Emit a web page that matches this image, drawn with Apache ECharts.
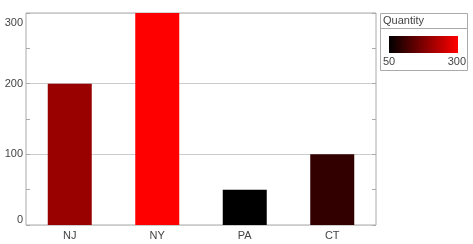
<!DOCTYPE html>
<html>
<head>
<meta charset="utf-8">
<script src="https://cdn.jsdelivr.net/npm/echarts@6/dist/echarts.min.js"></script>
<style>html,body{margin:0;padding:0;background:#fff}#c{width:473px;height:244px}</style>
</head>
<body>
<div id="c"></div>
<script>
var categories = ['NJ', 'NY', 'PA', 'CT'];
var quantities = [200, 300, 50, 100];
var colorMin = 50, colorMax = 300;
var legendTitle = 'Quantity';
var yMin = 0, yMax = 300, yInterval = 100;

var chart = echarts.init(document.getElementById('c'), null, {renderer: 'canvas'});
var font = 'Liberation Sans';
var axisGray = '#aaaaaa';
var yCommon = {
  type: 'value', min: yMin, max: yMax, interval: yInterval,
  axisLine: {show: false},
  axisTick: {show: true, inside: true, length: 4, lineStyle: {color: axisGray}},
  minorTick: {show: true, splitNumber: 2, length: 4, lineStyle: {color: axisGray}}
};
chart.setOption({
  animation: false,
  grid: {left: 26, top: 13, width: 350, height: 212, show: true, borderColor: axisGray, borderWidth: 1, backgroundColor: '#fff'},
  xAxis: {
    type: 'category', data: categories,
    axisLine: {show: false}, axisTick: {show: false},
    axisLabel: {fontFamily: font, fontSize: 11, color: '#444', margin: 5}
  },
  yAxis: [
    Object.assign({}, yCommon, {
      position: 'left',
      splitLine: {show: true, lineStyle: {color: '#cccccc'}},
      axisLabel: {fontFamily: font, fontSize: 11, color: '#444', margin: 3,
        verticalAlignMinLabel: 'bottom', verticalAlignMaxLabel: 'top',
        formatter: function (v) { return v === yMax ? '{mx|' + v + '}' : String(v); },
        rich: {mx: {fontFamily: font, fontSize: 11, color: '#444', padding: [4, 0, 0, 0]}}
      }
    }),
    Object.assign({}, yCommon, {
      position: 'right',
      splitLine: {show: false},
      axisLabel: {show: false}
    })
  ],
  visualMap: {
    show: false, type: 'continuous', min: colorMin, max: colorMax, dimension: 1,
    seriesIndex: 0, inRange: {color: ['#000000', '#ff0000']}
  },
  series: [{
    type: 'bar', data: quantities, barWidth: 44, yAxisIndex: 0
  }],
  graphic: [
    {type: 'rect', shape: {x: 380.5, y: 13.5, width: 87, height: 57}, style: {fill: '#fff', stroke: axisGray, lineWidth: 1}},
    {type: 'line', shape: {x1: 380.5, y1: 28.5, x2: 467.5, y2: 28.5}, style: {stroke: axisGray, lineWidth: 1}},
    {type: 'text', x: 383, y: 21, style: {text: legendTitle, font: '11px ' + font, fill: '#444', verticalAlign: 'middle'}},
    {type: 'rect', shape: {x: 389, y: 36, width: 69, height: 17},
      style: {fill: new echarts.graphic.LinearGradient(0, 0, 1, 0, [{offset: 0, color: '#000000'}, {offset: 1, color: '#ff0000'}])}},
    {type: 'text', x: 383, y: 62, style: {text: String(colorMin), font: '11px ' + font, fill: '#444', verticalAlign: 'middle'}},
    {type: 'text', x: 466, y: 62, style: {text: String(colorMax), font: '11px ' + font, fill: '#444', verticalAlign: 'middle', align: 'right'}}
  ]
});
</script>
</body>
</html>
